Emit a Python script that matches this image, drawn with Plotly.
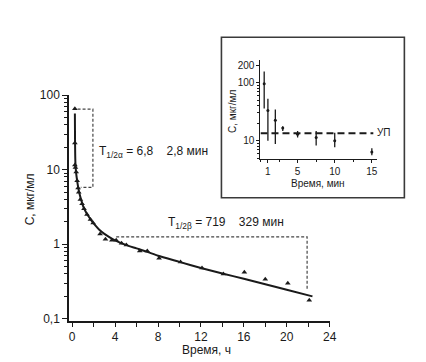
import plotly.graph_objects as go

# ---- main chart data (time, h; concentration, µg/ml) ----
obs_t = [0.25, 0.25, 0.25, 0.3, 0.37, 0.46, 0.55, 0.61, 0.76, 0.92, 1.1, 1.38, 1.7, 1.95,
         2.6, 3.1, 3.7, 4.1, 4.6, 5.05, 6.3, 7.0, 8.1, 10.1, 12.1, 14.1, 16.05, 18.0, 20.1, 22.1]
obs_c = [66, 22.9, 11.6, 10.7, 9.3, 7.1, 5.7, 5.0, 4.0, 3.5, 3.0, 2.5, 2.15, 1.93,
         1.37, 1.17, 1.13, 1.13, 1.03, 0.98, 0.81, 0.81, 0.65, 0.58, 0.48, 0.40, 0.42, 0.34, 0.30, 0.177]

fit_t = [0.25, 0.26, 0.28, 0.31, 0.36, 0.45, 0.55, 0.65, 0.8, 1.0, 1.25, 1.5, 2.0, 2.5, 3.0,
         3.5, 4.0, 5.0, 6.0, 7.0, 8.0, 10.0, 12.0, 14.0, 16.0, 18.0, 20.0, 22.4]
fit_c = [57, 30, 16, 11.5, 9.2, 7.3, 5.9, 5.0, 4.1, 3.3, 2.75, 2.4, 1.9, 1.58, 1.38,
         1.24, 1.13, 0.98, 0.88, 0.79, 0.70, 0.58, 0.48, 0.405, 0.345, 0.29, 0.245, 0.20]

alpha_br_t = [0.5, 1.93, 1.93, 0.8]
alpha_br_c = [65, 65, 5.8, 5.8]
beta_br_t = [4.1, 21.9, 21.9]
beta_br_c = [1.26, 1.26, 0.25]

x_ticks = [0, 4, 8, 12, 16, 20, 24]

# ---- inset data (time, min) ----
ins_t = [0.5, 1, 2, 3, 5, 7.5, 10, 15]
ins_c = [96, 33, 22.4, 16.6, 12.9, 11.3, 10, 6.4]
ins_hi = [156, 53, 34.5, 17.8, 14.7, 14.7, 13.7, 7.4]
ins_lo = [36, 10, 8.8, 14.7, 11.3, 8.25, 7.7, 5.6]
up_level = 13.4
up_t = [0, 15.2]
ins_xticks = [1, 5, 10, 15]
ins_yticks = [10, 100, 200]

W, H = 426, 362
def px(x): return x / W
def py(y): return 1 - y / H

FONT = "Liberation Sans, Arial, sans-serif"
INK = "#1a1a1a"

fig = go.Figure()

# main
fig.add_trace(go.Scatter(x=fit_t, y=fit_c, mode="lines", line=dict(color=INK, width=2, shape="spline", smoothing=0.6),
                         xaxis="x", yaxis="y", hoverinfo="skip"))
fig.add_trace(go.Scatter(x=obs_t, y=obs_c, mode="markers",
                         marker=dict(symbol="triangle-up", size=5, color=INK), xaxis="x", yaxis="y"))
fig.add_trace(go.Scatter(x=alpha_br_t, y=alpha_br_c, mode="lines",
                         line=dict(color="#444", width=1.2, dash="3px,2px"), xaxis="x", yaxis="y"))
fig.add_trace(go.Scatter(x=beta_br_t, y=beta_br_c, mode="lines",
                         line=dict(color="#444", width=1.2, dash="3px,2px"), xaxis="x", yaxis="y"))

# inset
err_plus = [h - c for h, c in zip(ins_hi, ins_c)]
err_minus = [c - l for c, l in zip(ins_c, ins_lo)]
fig.add_trace(go.Scatter(x=up_t, y=[up_level] * len(up_t), mode="lines",
                         line=dict(color=INK, width=2, dash="7px,4px"), xaxis="x2", yaxis="y2"))
fig.add_trace(go.Scatter(x=ins_t, y=ins_c, mode="markers",
                         marker=dict(symbol="circle", size=3, color=INK),
                         error_y=dict(type="data", symmetric=False, array=err_plus, arrayminus=err_minus,
                                      width=0, thickness=1.3, color=INK),
                         xaxis="x2", yaxis="y2"))

axis_common = dict(showline=True, linecolor=INK, linewidth=1.5, showgrid=False, zeroline=False,
                   ticks="outside", tickcolor=INK, tickfont=dict(family=FONT, size=12, color=INK))

fig.update_layout(
    width=W, height=H, autosize=False,
    margin=dict(l=0, r=0, t=0, b=0),
    paper_bgcolor="white", plot_bgcolor="rgba(0,0,0,0)",
    showlegend=False,
    separators=", ",
    font=dict(family=FONT, color=INK),
    xaxis=dict(**axis_common, domain=[px(62), px(327)], range=[-0.3, 24], tickvals=x_ticks,
               ticklen=4, tickwidth=1.2,
               minor=dict(dtick=2, ticks="outside", ticklen=4, tickcolor=INK, tickwidth=1.2),
               anchor="y"),
    yaxis=dict(**axis_common, domain=[py(316.5), py(83)], type="log", range=[-1.03, 2.0], dtick=1,
               ticklen=5, tickwidth=1.2,
               minor=dict(dtick="D1", ticks="outside", ticklen=3, tickcolor=INK, tickwidth=1),
               anchor="x"),
    xaxis2=dict(showline=True, linecolor=INK, linewidth=1.3, showgrid=False, zeroline=False,
                ticks="outside", tickcolor=INK, ticklen=3, tickfont=dict(family=FONT, size=10, color=INK),
                domain=[px(256.7), px(375.2)], range=[0, 15.7], tickvals=ins_xticks,
                minor=dict(dtick=2.5, tick0=0, ticks="outside", ticklen=2, tickcolor=INK),
                anchor="y2"),
    yaxis2=dict(showline=True, linecolor=INK, linewidth=1.3, showgrid=False, zeroline=False,
                ticks="outside", tickcolor=INK, ticklen=3, tickfont=dict(family=FONT, size=10, color=INK),
                domain=[py(149), py(47)], type="log", range=[0.683, 2.383], tickvals=ins_yticks,
                minor=dict(tickvals=[5, 6, 7, 8, 9, 20, 30, 40, 50, 60, 70, 80, 90], ticks="outside",
                           ticklen=2, tickcolor=INK),
                anchor="x2"),
    shapes=[dict(type="rect", xref="paper", yref="paper", x0=px(217), x1=px(403), y0=py(189), y1=py(23),
                 line=dict(color="#3a3a3a", width=1.6), fillcolor="rgba(0,0,0,0)", layer="below")],
)

ann = dict(xref="paper", yref="paper", showarrow=False, font=dict(family=FONT, size=12, color=INK))
fig.add_annotation(**ann, x=px(90), y=py(141.5), xanchor="left", yanchor="middle",
                   text="T<sub>1/2α</sub> = 6,8\u00a0\u00a0\u00a0\u00a02,8 мин")
fig.add_annotation(**ann, x=px(161), y=py(215), xanchor="left", yanchor="middle",
                   text="T<sub>1/2β</sub> = 719\u00a0\u00a0\u00a0\u00a0329 мин")
fig.add_annotation(**ann, x=px(202), y=py(346), xanchor="center", yanchor="middle", text="Время, ч")
fig.add_annotation(**ann, x=px(22), y=py(191), xanchor="center", yanchor="middle", text="С, мкг/мл",
                   textangle=-90)
ann_s = dict(ann); ann_s["font"] = dict(family=FONT, size=10, color=INK)
fig.add_annotation(**ann_s, x=px(315), y=py(174), xanchor="center", yanchor="middle", text="Время, мин")
fig.add_annotation(**ann_s, x=px(228), y=py(100), xanchor="center", yanchor="middle", text="С, мкг/мл",
                   textangle=-90)
fig.add_annotation(**ann_s, x=px(373), y=py(122), xanchor="left", yanchor="middle", text="УП")

fig.write_html("out.html")
